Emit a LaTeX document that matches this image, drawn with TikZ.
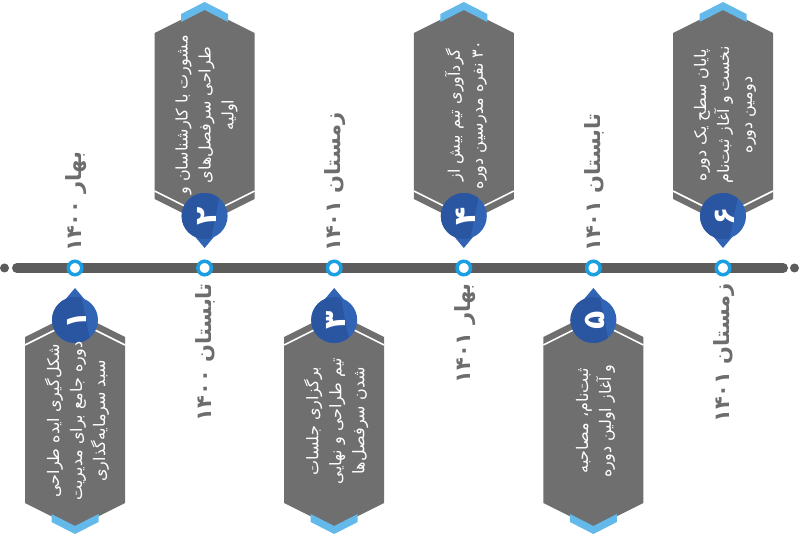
\documentclass[tikz,border=0pt]{standalone}
\usepackage{fontspec}
\usepackage{tikz}
\usetikzlibrary{positioning,calc}
\TeXXeTstate=1
\newfontfamily\farsi[Script=Arabic]{DejaVu Sans}
\newcommand{\fa}[1]{\beginR #1\endR}
\definecolor{ligne}{HTML}{5C5C5C}
\definecolor{carteC}{HTML}{6F6F6F}
\definecolor{dateC}{HTML}{6D6D6D}
\definecolor{anneau}{HTML}{1A9FE2}
\definecolor{pastC}{HTML}{3164B5}
\definecolor{pastF}{HTML}{2A55A0}
\definecolor{chevC}{HTML}{62B9EA}
\tikzset{
  jalon/.style={circle, draw=anneau, line width=3.5pt, fill=white, minimum size=13.5pt, inner sep=0pt},
  bout/.style={circle, fill=ligne, minimum size=9pt, inner sep=0pt},
  texte/.style={rotate=90, align=center, text=white, font=\farsi\fontsize{16}{23}\selectfont},
  date/.style={rotate=90, text=dateC, inner sep=0pt, font=\farsi\bfseries\fontsize{21}{22}\selectfont},
  num/.style={rotate=90, text=white, inner sep=0pt, font=\farsi\bfseries\fontsize{30}{30}\selectfont},
}
% carte : #1 = abscisse, #2 = 1 (en bas) ou -1 (en haut)
\newcommand{\carte}[2]{%
  \begin{scope}[shift={(#1,268)}, yscale=#2]
    \fill[carteC] (-50,69) -- (0,44) -- (50,69) -- (50,235) -- (0,260) -- (-50,235) -- cycle;
    \draw[white, line width=1.6pt] (-50,77) -- (0,52) -- (50,77);
    \fill[chevC] (-23.5,246) -- (0,258) -- (23.5,246) -- (23.5,254) -- (0,266) -- (-23.5,254) -- cycle;
    \fill[pastC] (0,52) circle (23) (-9.5,31.3) -- (0,20) -- (9.5,31.3) -- cycle;
    \begin{scope}
      \clip (0,52) circle (23);
      \fill[pastF] (-25,27) -- (6,27) -- (16,77) -- (-25,77) -- cycle;
    \end{scope}
  \end{scope}}

\begin{document}
\begin{tikzpicture}[x=1pt, y=-1pt]
  \useasboundingbox (0,0) rectangle (800,537);
  % ligne du temps
  \node[bout] (bg) at (4.5,268) {};
  \node[bout] (bd) at (794.5,268) {};
  \coordinate (lg) at (17,268);
  \coordinate (ld) at (783,268);
  \draw[ligne, line width=10pt, line cap=round] (lg) -- (ld);
  % cartes
  \carte{75}{1} \carte{204.6}{-1} \carte{334.2}{1}
  \carte{463.8}{-1} \carte{593.4}{1} \carte{723}{-1}
  % jalons
  \node[jalon] (j1) at (75,268) {};
  \node[jalon] (j2) at (204.6,268) {};
  \node[jalon] (j3) at (334.2,268) {};
  \node[jalon] (j4) at (463.8,268) {};
  \node[jalon] (j5) at (593.4,268) {};
  \node[jalon] (j6) at (723,268) {};
  % numeros
  \node[num] (n1) at (77,320) {\fa{۱}};
  \node[num] (n2) at (206.6,216) {\fa{۲}};
  \node[num] (n3) at (336.2,320) {\fa{۳}};
  \node[num] (n4) at (465.8,216) {\fa{۴}};
  \node[num] (n5) at (595.4,320) {\fa{۵}};
  \node[num] (n6) at (725,216) {\fa{۶}};
  % dates
  \node[date, anchor=west] (d1) at (76,252) {\fa{بهار ۱۴۰۰}};
  \node[date, anchor=east] (d2) at (205.6,283) {\fa{تابستان ۱۴۰۰}};
  \node[date, anchor=west] (d3) at (335.2,252) {\fa{زمستان ۱۴۰۱}};
  \node[date, anchor=east] (d4) at (464.8,283) {\fa{بهار ۱۴۰۱}};
  \node[date, anchor=west] (d5) at (594.4,252) {\fa{تابستان ۱۴۰۱}};
  \node[date, anchor=east] (d6) at (724,283) {\fa{زمستان ۱۴۰۱}};
  % textes
  \node[texte] (t1) at (77,421) {\fa{شکل‌گیری ایده طراحی}\\\fa{دوره جامع برای مدیریت}\\\fa{سبد سرمایه‌گذاری}};
  \node[texte] (t2) at (206.6,115) {\fa{مشورت با کارشناسان و}\\\fa{طراحی سرفصل‌های}\\\fa{اولیه}};
  \node[texte] (t3) at (336.2,421) {\fa{برگزاری جلسات}\\\fa{تیم طراحی و نهایی}\\\fa{شدن سرفصل‌ها}};
  \node[texte] (t4) at (465.8,115) {\fa{گردآوری تیم بیش از}\\\fa{۳۰ نفره مدرسین دوره}};
  \node[texte] (t5) at (595.4,421) {\fa{ثبت‌نام، مصاحبه}\\\fa{و آغاز اولین دوره}};
  \node[texte] (t6) at (725,115) {\fa{پایان سطح یک دوره}\\\fa{نخست و آغاز ثبت‌نام}\\\fa{دومین دوره}};
\end{tikzpicture}
\end{document}
